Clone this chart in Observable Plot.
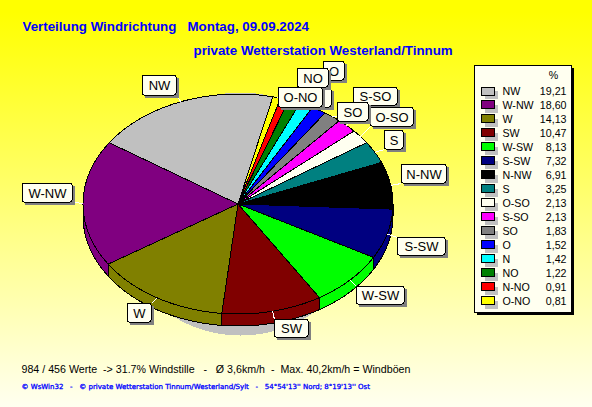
<!DOCTYPE html>
<html><head><meta charset="utf-8">
<script src="https://cdn.jsdelivr.net/npm/d3@7"></script>
<script src="https://cdn.jsdelivr.net/npm/@observablehq/plot@0.6"></script>
<style>html,body{margin:0;padding:0;background:#ffffe8}svg{display:block}</style>
</head><body><div id="chart"></div>
<script>
const directions = ["NW","W-NW","W","SW","W-SW","S-SW","N-NW","S","O-SO","S-SO","SO","O","N","NO","N-NO","O-NO"];
const percents = [19.21,18.60,14.13,10.47,8.13,7.32,6.91,3.25,2.13,2.13,1.83,1.52,1.42,1.22,0.91,0.81];
const colours = ["#c0c0c0","#800080","#808000","#800000","#00ff00","#000080","#000000","#008080","#fffff0","#ff00ff","#808080","#0000ff","#00ffff","#008000","#ff0000","#ffff00"];
const titleLine1 = "Verteilung Windrichtung\u00a0\u00a0\u00a0Montag, 09.09.2024";
const titleLine2 = "private Wetterstation Westerland/Tinnum";
const footLine1 = "984 / 456 Werte \u00a0-> 31.7% Windstille \u00a0 - \u00a0 Ø 3,6km/h \u00a0- \u00a0Max. 40,2km/h = Windböen";
const footLine2 = "© WsWin32 \u00a0 - \u00a0 © private Wetterstation Tinnum/Westerland/Sylt \u00a0 - \u00a0 54°54'13'' Nord; 8°19'13'' Ost";
// these two labels lie fully under their neighbours in the reference, so only their boxes show
const coveredLabels = ["N","N-NO"];

// pie geometry (layout only)
const cx = 237.5, cy = 203.5, rx = 155, ry = 110, depth = 12, startDeg = 77;
const rad = d => d * Math.PI / 180;
const pt = (deg, dy = 0) => [cx + rx * Math.cos(rad(deg)), cy - ry * Math.sin(rad(deg)) + dy];
const total = d3.sum(percents);
let acc = 0;
const slices = directions.map((dir, i) => {
  const a0 = startDeg + acc / total * 360;
  acc += percents[i];
  return {dir, a0, a1: startDeg + acc / total * 360, colour: colours[i], value: percents[i]};
});
const arc = (a0, a1, dy = 0) => {
  const n = Math.max(2, Math.ceil((a1 - a0) / 1.5));
  return d3.range(n + 1).map(k => pt(a0 + (a1 - a0) * k / n, dy));
};
const poly = [], wall = [];
for (const s of slices) {
  for (const p of [[cx, cy], ...arc(s.a0, s.a1)]) poly.push({dir: s.dir, x: p[0], y: p[1]});
  const lo = Math.max(s.a0, 180), hi = Math.min(s.a1, 360);
  if (hi > lo) for (const p of [...arc(lo, hi), ...arc(lo, hi, depth).reverse()]) wall.push({dir: s.dir, x: p[0], y: p[1]});
}
const shadow = d3.range(0, 360, 3).map(a => ({x: 240 + 125 * Math.cos(rad(a)), y: 213.5 + 121.5 * Math.sin(rad(a))}));

// label box placement, in paint order (layout only)
const labelBoxes = [
  ["NW",142,176,75,95],["W-NW",22,72,183,202],["W",127,151,303,322],["SW",274,308,319,337],
  ["W-SW",356,404,286,304],["S-SW",397,445,237,255],["N-NW",401,446,164,183],["S-SO",353,397,87,105],
  ["O-SO",370,413,107,126],["S",384,403,130,149],["SO",337,368,102,121],["O",323,344,61,80],
  ["N",302,322,68,87],["N-NO",287,331,88,107],["NO",297,328,68,87],["O-NO",278,322,87,107]
];
const bySlice = new Map(slices.map(s => [s.dir, s]));
const leaders = labelBoxes.map(([dir,x0,x1,y0,y1]) => {
  const s = bySlice.get(dir), p = pt((s.a0 + s.a1) / 2);
  return {x1: p[0], y1: p[1], x2: Math.min(x1, Math.max(x0, p[0])), y2: Math.min(y1, Math.max(y0, p[1]))};
});

const ivory = "#fffff0";
const labelMarks = labelBoxes.flatMap(([dir,x0,x1,y0,y1]) => {
  const d = [{x0,x1,y0,y1,dir}];
  return [
    Plot.rect(d,{x1:r=>r.x0+3,x2:r=>r.x1+3,y1:r=>r.y0+3,y2:r=>r.y1+3,fill:"#808080"}),
    Plot.rect(d,{x1:"x0",x2:"x1",y1:"y0",y2:"y1",fill:ivory,stroke:"#000",r:2}),
    ...(coveredLabels.includes(dir) ? [] : [Plot.text(d,{x:r=>(r.x0+r.x1)/2,y:r=>(r.y0+r.y1)/2+0.5,text:"dir",fontSize:13,fill:"#000"})])
  ];
});

const legendRows = slices.map((s,i)=>({...s,yc:91+i*13.98}));
const chart = Plot.plot({
  width:592,height:407,margin:0,
  x:{domain:[0,592],range:[0,592],axis:null},
  y:{domain:[0,407],range:[0,407],axis:null},
  color:{domain:directions,range:colours},
  style:{background:"linear-gradient(to bottom,#ffff00 0%,#ffff00 3%,#fffff0 100%)",fontFamily:"'Liberation Sans',Arial,sans-serif",shapeRendering:"crispEdges"},
  marks:[
    Plot.line(shadow,{x:"x",y:"y",fill:"#c0c0c0",stroke:"none",curve:"linear-closed"}),
    Plot.line(wall,{x:"x",y:"y",z:"dir",fill:"dir",stroke:"#000",strokeWidth:1,curve:"linear-closed"}),
    Plot.line(poly,{x:"x",y:"y",z:"dir",fill:"dir",stroke:"#000",strokeWidth:1,curve:"linear-closed"}),
    Plot.link(leaders,{x1:"x1",y1:"y1",x2:"x2",y2:"y2",stroke:"#fff",strokeWidth:1}),
    ...labelMarks,
    // legend panel
    Plot.rect([0],{x1:477,x2:574,y1:68,y2:315,fill:"#000"}),
    Plot.rect([0],{x1:474,x2:571,y1:65,y2:312,fill:ivory,stroke:"#000"}),
    Plot.text(["%"],{x:553,y:75,text:d=>d,fontSize:10.67,fill:"#000"}),
    Plot.rect(legendRows,{x1:485,x2:498,y1:d=>d.yc,y2:d=>d.yc+8,fill:"#c0c0c0"}),
    Plot.rect(legendRows,{x1:481,x2:494,y1:d=>d.yc-4,y2:d=>d.yc+4,fill:"dir",stroke:"#000"}),
    Plot.text(legendRows,{x:502,y:"yc",text:"dir",textAnchor:"start",fontSize:10.67,fill:"#000"}),
    Plot.text(legendRows,{x:566,y:"yc",text:d=>d.value.toFixed(2).replace(".",","),textAnchor:"end",fontSize:10.67,fill:"#000"}),
    // texts
    Plot.text([titleLine1],{x:22,y:26,text:d=>d,textAnchor:"start",fontSize:13.33,fontWeight:"bold",fill:"#0000ff"}),
    Plot.text([titleLine2],{x:193,y:50,text:d=>d,textAnchor:"start",fontSize:13.33,fontWeight:"bold",fill:"#0000ff"}),
    Plot.text([footLine1],{x:21,y:369,text:d=>d,textAnchor:"start",fontSize:10.67,fill:"#000"}),
    Plot.text([footLine2],{x:21,y:386,text:d=>d,textAnchor:"start",fontSize:7,fontFamily:"'DejaVu Sans',sans-serif",fill:"#0000ff",stroke:"#0000ff",strokeWidth:0.3})
  ]
});
document.getElementById("chart").append(chart);
</script></body></html>
